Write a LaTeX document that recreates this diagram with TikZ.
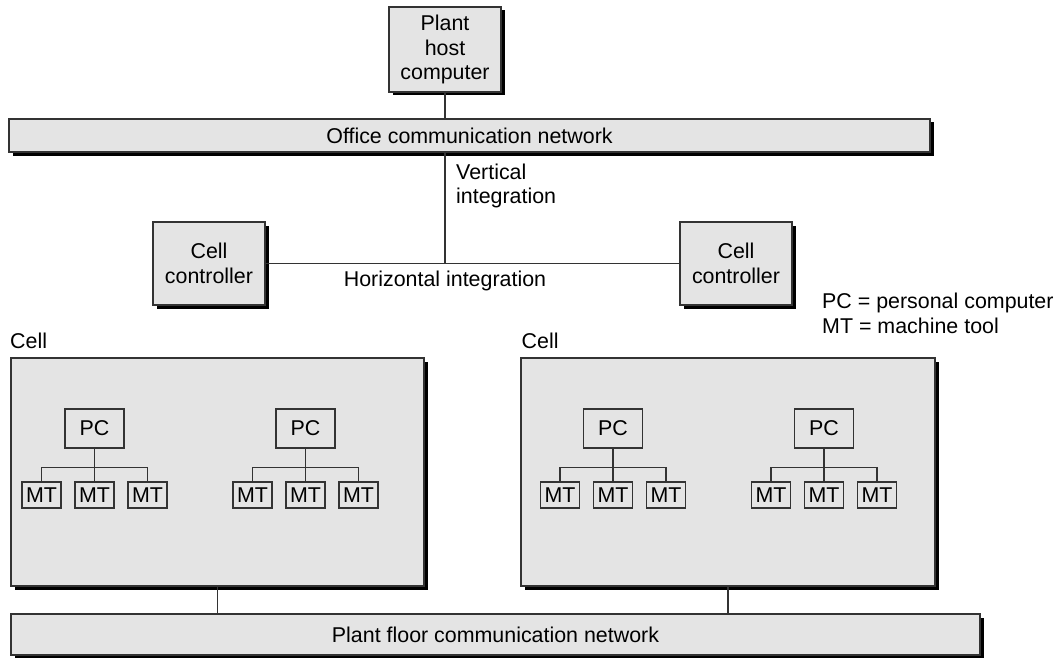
\documentclass[tikz,border=0pt]{standalone}
\usepackage{fontspec}
\setmainfont{Liberation Sans}
\usetikzlibrary{positioning,shadows}
\definecolor{panelgray}{HTML}{E4E4E4}
\definecolor{linegray}{HTML}{333333}

\begin{document}
\begin{tikzpicture}[
    x=1pt, y=-1pt,
    every node/.style={font=\fontsize{21.4}{24.8}\selectfont},
    panel/.style={draw=linegray, line width=1.2pt, fill=panelgray, inner sep=0pt,
        drop shadow={shadow xshift=3.5pt, shadow yshift=-3.5pt, fill=black, opacity=1}},
    pcbox/.style={draw=linegray, line width=1.1pt, inner sep=0pt, minimum width=59pt, minimum height=39pt},
    mtbox/.style={draw=linegray, line width=1.1pt, inner sep=0pt, minimum width=39pt, minimum height=26pt},
    link/.style={draw=linegray, line width=1.1pt},
    note/.style={inner sep=0pt, align=left}
]
\useasboundingbox (0,0) rectangle (1057,658);

% Plant level
\node[panel, minimum width=112pt, minimum height=85pt, align=center] (host) at (445,49.5) {Plant\\host\\computer};
\node[panel, minimum width=921pt, minimum height=33pt] (officenet) at (469.5,135.5) {Office communication network};
\draw[link] (host.south) -- (host.south |- officenet.north);

% Cell controllers
\node[panel, minimum width=112pt, minimum height=83pt, align=center] (leftctrl) at (209,263.5) {Cell\\controller};
\node[panel, minimum width=112pt, minimum height=83pt, align=center] (rightctrl) at (736,263.5) {Cell\\controller};
\draw[link] (host.south |- officenet.south) -- (host.south |- leftctrl.east);
\draw[link] (leftctrl.east) -- (rightctrl.west);
\node[note, anchor=west] (vert) at (456,186) {Vertical\\integration};
\node (horiz) at (445,281) {Horizontal integration};

% Legend
\node[note, anchor=west] (legend) at (822,313) {PC = personal computer\\MT = machine tool};

% Left cell
\begin{scope}[shift={(0,0)}]
    \node[panel, minimum width=413pt, minimum height=228pt] (leftcell) at (217.5,472) {};
    \node[anchor=base west, inner sep=0pt] (leftcelltag) at (10,348) {Cell};

    \node[pcbox] (pca) at (94.5,428.5) {PC};
    \node[mtbox] (mta1) at (41.5,495) {MT};
    \node[mtbox] (mta2) at (94.5,495) {MT};
    \node[mtbox] (mta3) at (147.5,495) {MT};
    \draw[link] (pca.south) -- (mta2.north);
    \draw[link] (mta1.north) -- ++(0,-14) -| (mta3.north);

    \node[pcbox] (pcb) at (305.5,428.5) {PC};
    \node[mtbox] (mtb1) at (252.5,495) {MT};
    \node[mtbox] (mtb2) at (305.5,495) {MT};
    \node[mtbox] (mtb3) at (358.5,495) {MT};
    \draw[link] (pcb.south) -- (mtb2.north);
    \draw[link] (mtb1.north) -- ++(0,-14) -| (mtb3.north);
\end{scope}

% Right cell
\begin{scope}[shift={(518.5,0)}]
    \node[panel, minimum width=414pt, minimum height=228pt] (rightcell) at (209.5,472) {};
    \node[anchor=base west, inner sep=0pt] (rightcelltag) at (3,348) {Cell};

    \node[pcbox] (pcc) at (94.5,428.5) {PC};
    \node[mtbox] (mtc1) at (41.5,495) {MT};
    \node[mtbox] (mtc2) at (94.5,495) {MT};
    \node[mtbox] (mtc3) at (147.5,495) {MT};
    \draw[link] (pcc.south) -- (mtc2.north);
    \draw[link] (mtc1.north) -- ++(0,-14) -| (mtc3.north);

    \node[pcbox] (pcd) at (305.5,428.5) {PC};
    \node[mtbox] (mtd1) at (252.5,495) {MT};
    \node[mtbox] (mtd2) at (305.5,495) {MT};
    \node[mtbox] (mtd3) at (358.5,495) {MT};
    \draw[link] (pcd.south) -- (mtd2.north);
    \draw[link] (mtd1.north) -- ++(0,-14) -| (mtd3.north);
\end{scope}

% Plant floor network
\node[panel, minimum width=969pt, minimum height=41pt] (floornet) at (495.5,634.5) {Plant floor communication network};
\draw[link] (leftcell.south) -- (leftcell.south |- floornet.north);
\draw[link] (rightcell.south) -- (rightcell.south |- floornet.north);

\end{tikzpicture}
\end{document}
